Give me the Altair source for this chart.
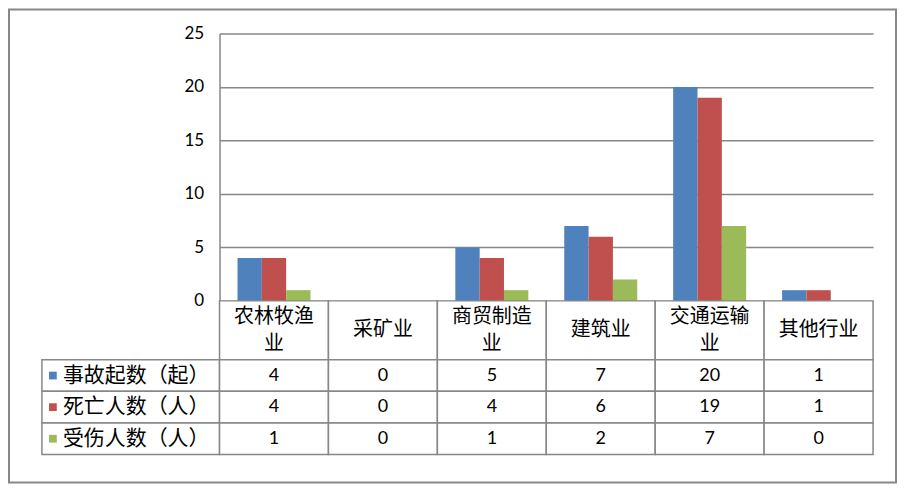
import altair as alt
import pandas as pd

categories = ["农林牧渔业", "采矿业", "商贸制造业", "建筑业", "交通运输业", "其他行业"]
category_lines = ["农林牧渔\n业", "采矿业", "商贸制造\n业", "建筑业", "交通运输\n业", "其他行业"]
series = ["事故起数（起）", "死亡人数（人）", "受伤人数（人）"]
accidents = [4, 0, 5, 7, 20, 1]
deaths = [4, 0, 4, 6, 19, 1]
injuries = [1, 0, 1, 2, 7, 0]
colors = ["#4F81BD", "#C0504D", "#9BBB59"]
y_ticks = [0, 5, 10, 15, 20, 25]

GRAY = "#878787"
CJK = "Noto Sans CJK SC"
NUM = "Lato"

rows = []
for s, vals in zip(series, [accidents, deaths, injuries]):
    for c, v in zip(categories, vals):
        rows.append({"category": c, "series": s, "value": v})
df = pd.DataFrame(rows)

df_head = pd.DataFrame({
    "category": categories,
    "line": category_lines,
    "nlines": [t.count("\n") + 1 for t in category_lines],
    "row": ["h"] * len(categories),
})
df_leg = pd.DataFrame({"series": series, "col": ["c"] * len(series)})

band0 = alt.Scale(paddingInner=0, paddingOuter=0)

# top-left: outer frame
frame = alt.Chart(pd.DataFrame({"a": [0]})).mark_rect(
    filled=False, stroke=GRAY, strokeWidth=2
).encode(
    x=alt.value(-33), x2=alt.value(856), y=alt.value(-24), y2=alt.value(450)
).properties(width=178, height=268)

bars = alt.Chart(df).mark_bar().encode(
    x=alt.X("category:N", sort=categories, axis=None,
            scale=alt.Scale(paddingInner=0.33, paddingOuter=0.165)),
    xOffset=alt.XOffset("series:N", sort=series, scale=band0),
    y=alt.Y("value:Q", scale=alt.Scale(domain=[0, 25], nice=False),
            axis=alt.Axis(values=y_ticks, title=None, grid=True, gridColor=GRAY,
                          gridWidth=1.5, domainColor=GRAY, domainWidth=1.5,
                          tickSize=0, labelPadding=16, labelFont=NUM,
                          labelFontSize=17, labelColor="black")),
    color=alt.Color("series:N", sort=series,
                    scale=alt.Scale(domain=series, range=colors), legend=None),
).properties(width=655, height=268)

blank = alt.Chart(pd.DataFrame({"a": [0]})).mark_point(opacity=0).encode(
    x=alt.value(0), y=alt.value(0)
).properties(width=178, height=59)

hx = alt.X("category:N", sort=categories, axis=None, scale=band0)
hy = alt.Y("row:N", axis=None, scale=band0)
head_rect = alt.Chart(df_head).mark_rect(fill="white", stroke=GRAY, strokeWidth=1.5).encode(x=hx, y=hy)
head_text1 = alt.Chart(df_head).transform_filter("datum.nlines == 1").mark_text(
    font=CJK, fontSize=20, color="black"
).encode(x=hx, y=hy, text="line:N")
head_text2 = alt.Chart(df_head).transform_filter("datum.nlines == 2").mark_text(
    lineBreak="\n", font=CJK, fontSize=20, lineHeight=27, color="black", dy=-13.5
).encode(x=hx, y=hy, text="line:N")
header = alt.layer(head_rect, head_text1, head_text2).properties(width=655, height=59)

lx = alt.X("col:N", axis=None, scale=band0)
ly = alt.Y("series:N", sort=series, axis=None, scale=band0)
leg_rect = alt.Chart(df_leg).mark_rect(fill="white", stroke=GRAY, strokeWidth=1.5).encode(x=lx, y=ly)
leg_sq = alt.Chart(df_leg).mark_square(size=60, opacity=1).encode(
    x=alt.value(11), y=ly,
    color=alt.Color("series:N", sort=series, scale=alt.Scale(domain=series, range=colors), legend=None),
)
leg_text = alt.Chart(df_leg).mark_text(align="left", font=CJK, fontSize=21, color="black").encode(
    x=alt.value(21), y=ly, text="series:N"
)
legcol = alt.layer(leg_rect, leg_sq, leg_text).properties(width=178, height=95)

tx = alt.X("category:N", sort=categories, axis=None, scale=band0)
ty = alt.Y("series:N", sort=series, axis=None, scale=band0)
tab_rect = alt.Chart(df).mark_rect(fill="white", stroke=GRAY, strokeWidth=1.5).encode(x=tx, y=ty)
tab_text = alt.Chart(df).mark_text(font=NUM, fontSize=18, color="black").encode(
    x=tx, y=ty, text="value:Q"
)
table = alt.layer(tab_rect, tab_text).properties(width=655, height=95)

chart = alt.concat(
    frame, bars, blank, header, legcol, table,
    columns=2, spacing=0, bounds="flush"
).properties(
    padding=0
).configure_view(stroke=None)

chart.save("out.html", embed_options={"renderer": "svg", "actions": False})
